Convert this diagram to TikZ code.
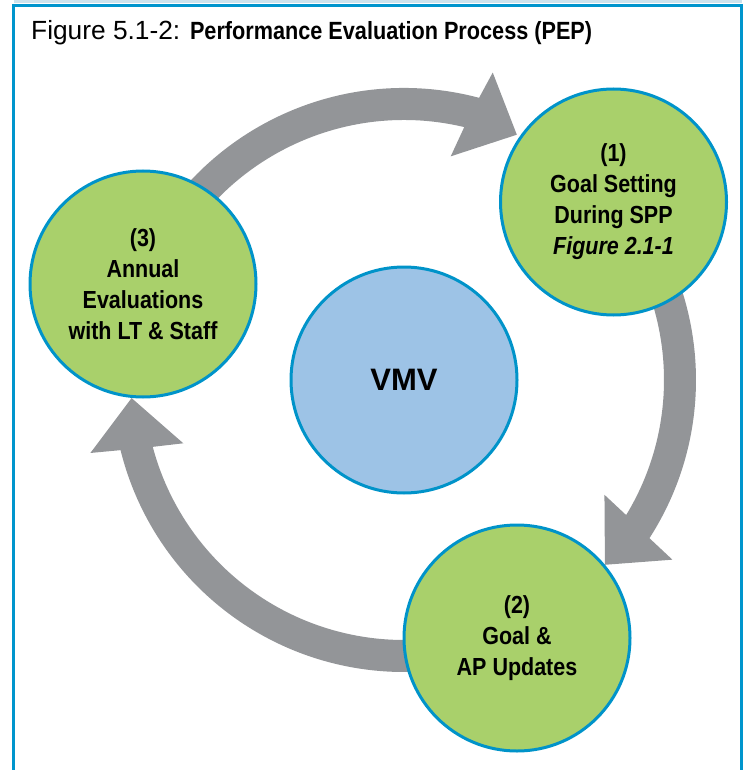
\documentclass[tikz,border=0pt]{standalone}
\usepackage{fontspec}
\setmainfont{Liberation Sans}
\newfontfamily\narrowsans[FakeStretch=0.87]{Liberation Sans}
\usetikzlibrary{calc}
\definecolor{frameblue}{RGB}{0,149,205}
\definecolor{circblue}{RGB}{0,147,201}
\definecolor{leaf}{RGB}{169,208,107}
\definecolor{sky}{RGB}{157,195,230}
\definecolor{arrowgray}{RGB}{147,149,152}
\definecolor{toplight}{RGB}{205,226,236}
\begin{document}
\begin{tikzpicture}[x=1pt,y=-1pt,
  stepcirc/.style={circle, draw=circblue, line width=3pt, fill=leaf,
    minimum size=226pt, inner sep=0pt, align=center,
    font=\narrowsans\bfseries\fontsize{24.7}{31}\selectfont},
  corecirc/.style={circle, draw=circblue, line width=3pt, fill=sky,
    minimum size=226pt, inner sep=0pt, align=center,
    font=\bfseries\fontsize{31}{37}\selectfont},
  cyclearrow/.style={fill=arrowgray}]
\useasboundingbox (0,0) rectangle (744,770);
% frame
\draw[toplight, line width=3pt] (13.5,1.5) -- (741.5,1.5);
\draw[frameblue, line width=3pt] (13.5,770) -- (13.5,5.5) -- (741.5,5.5) -- (741.5,770);
% title
\node[anchor=base west, inner sep=0pt] (title) at (31,40)
  {\fontsize{26.3}{30}\selectfont Figure 5.1-2: {\narrowsans\bfseries\fontsize{24.9}{30}\selectfont Performance Evaluation Process (PEP)}};
% centre of the cycle
\coordinate (O) at (404,380);
% arrows
\begin{scope}[shift={(O)}]
  % (3) -> (1)
  \fill[cyclearrow] (-160:292) arc[start angle=-160, end angle=-75.1, radius=292]
    -- (-73.9:320) -- (-65.3:270) -- (-78.2:228.5) -- (-76.6:260)
    arc[start angle=-76.6, end angle=-160, radius=260] -- cycle;
  % (1) -> (2)
  \fill[cyclearrow] (-40:292) arc[start angle=-40, end angle=32.8, radius=292]
    -- (33.8:323) -- (42.6:273) -- (29.8:231) -- (31.3:260)
    arc[start angle=31.3, end angle=-40, radius=260] -- cycle;
  % (2) -> (3)
  \fill[cyclearrow] (66:292) arc[start angle=66, end angle=166.1, radius=292]
    -- (166.9:322) -- (176.2:273) -- (164:229.6) -- (165.1:260)
    arc[start angle=165.1, end angle=66, radius=260] -- cycle;
\end{scope}
% circles
\node[corecirc] (vmv) at (O) {VMV};
\node[stepcirc] (c1) at (613.5,202) {(1)\\Goal Setting\\During SPP\\\textit{Figure 2.1-1}};
\node[stepcirc] (c2) at (517,638) {(2)\\Goal \&\\AP Updates};
\node[stepcirc] (c3) at (143,284) {(3)\\Annual\\Evaluations\\with LT \& Staff};
\end{tikzpicture}
\end{document}
